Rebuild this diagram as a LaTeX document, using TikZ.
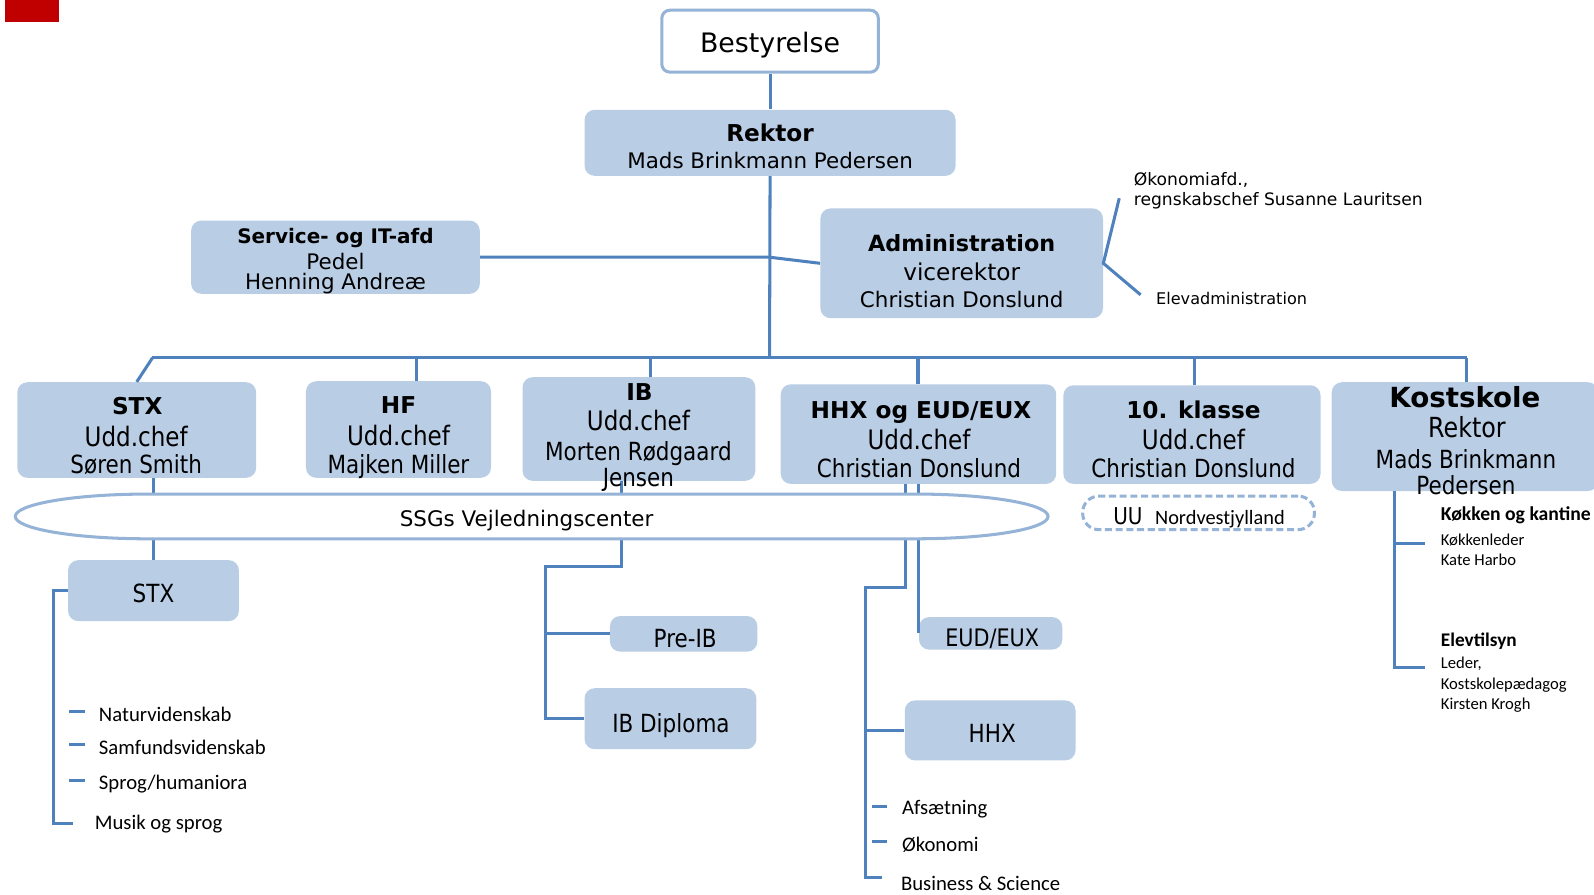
\documentclass[tikz,border=0pt]{standalone}
\usepackage{fontspec}
\setmainfont{DejaVu Sans}
\newfontfamily\condfont{DejaVu Sans}[FakeStretch=0.86]
\newfontfamily\calfont{Carlito}

\definecolor{boxblue}{HTML}{B9CDE5}
\definecolor{lineblue}{HTML}{4F81BD}
\definecolor{rimblue}{HTML}{95B3D7}
\definecolor{ssgred}{HTML}{C00000}

\newcommand\fs[1]{\fontsize{#1}{#1}\selectfont}

\tikzset{
	bx/.style 2 args={fill=boxblue,rounded corners=0.2cm,inner sep=0pt,
		minimum width=#1*0.02cm,minimum height=#2*0.02cm},
	ln/.style={draw=lineblue,line width=1.7pt},
	txt/.style={inner sep=0pt,anchor=mid,yshift=-0.08cm},
	ttl/.style={txt,font=\bfseries\fs{13}},
	chef/.style={txt,font=\condfont\fs{15}},
	who/.style={txt,font=\condfont\fs{14}},
	item/.style={inner sep=0pt,anchor=west,font=\calfont\fs{11.6}},
	note/.style={inner sep=0pt,anchor=west,font=\calfont\fs{9.3}},
}

\begin{document}
\begin{tikzpicture}[x=0.02cm,y=-0.02cm]
\useasboundingbox (0,0) rectangle (1568,880);

\fill[ssgred] (5,0) rectangle (58,22);

% boxes
\node[bx={213}{61},fill=white,draw=rimblue,line width=1.7pt,rounded corners=0.16cm] (best) at (757.5,40.5) {};
\node[bx={365}{65}] (rektor) at (757.5,140.5) {};
\node[bx={284}{72}] (service) at (330,253) {};
\node[bx={278}{108}] (admin) at (946,259) {};

\node[bx={235}{94}] (stx) at (134.5,423) {};
\node[bx={182}{95}] (hf) at (392,422.5) {};
\node[bx={229}{102}] (ib) at (628.5,422) {};
\node[bx={271}{98}] (hhx) at (903.5,427) {};
\node[bx={253}{97}] (tenth) at (1172.5,427.5) {};
\node[bx={262}{107}] (kost) at (1441,429.5) {};

\node[bx={168}{60}] (stxsub) at (151,581) {};
\node[bx={145}{35}] (preib) at (672.5,623.5) {};
\node[bx={169}{60}] (ibdip) at (659.5,707) {};
\node[bx={141}{32}] (eud) at (974.5,623) {};
\node[bx={168}{59}] (hhxsub) at (974,718.5) {};
\node[bx={228}{33},fill=none,draw=rimblue,line width=1.7pt,dash pattern=on 4pt off 2pt,
	rounded corners=0.32cm] (uu) at (1179,504.5) {};

% connectors
\coordinate (busl) at (150,352);
\coordinate (busm) at (757,352);
\coordinate (busr) at (1443,352);
\coordinate (svcj) at (757,253);
\coordinate (okc) at (1101,195);
\coordinate (elc) at (1122,290);

\draw[ln] (best.south) -- (rektor.north);
\draw[ln] (rektor.south) -- (busm);
\draw[ln] (service.east) -- (svcj) -- (admin.west);
\draw[ln] (okc) -- (admin.east) -- (elc);
\draw[ln] (busl) -- (busr);
\draw[ln] (busl) -- (stx.north);
\foreach \n/\x in {hf/410,ib/640,hhx/903,tenth/1175,kost/1443}
	\draw[ln] (\x,352) -- (\x,352 |- \n.north);

\draw[ln] (stxsub.north |- stx.south) -- (stxsub.north);
\coordinate (sl) at (53,810);
\draw[ln] (stxsub.west) -| (sl) -- ++(19,0);

\coordinate (ibj1) at (611,557);
\coordinate (ibj2) at (537,557);
\draw[ln] (ibj1 |- ib.south) -- (ibj1) -- (ibj2) |- (ibdip.west);
\draw[ln] (ibj2 |- preib.west) -- (preib.west);

\coordinate (hhj1) at (891,578);
\coordinate (hhj2) at (851,578);
\coordinate (hhj3) at (851,863);
\draw[ln] (hhj1 |- hhx.south) -- (hhj1) -- (hhj2) -- (hhj3) -- ++(17,0);
\draw[ln] (hhj2 |- hhxsub.west) -- (hhxsub.west);
\draw[ln] (eud.west |- hhx.south) -- (eud.west);

\coordinate (kj1) at (1372,535);
\coordinate (kj2) at (1372,657);
\draw[ln] (kj1 |- kost.south) -- (kj2) -- ++(30,0);
\draw[ln] (kj1) -- ++(30,0);

% vejledningscenter
\filldraw[fill=white,draw=rimblue,line width=1.7pt] (145,486) -- (901,486)
	arc[start angle=90,end angle=-90,x radius=2.6cm,y radius=0.44cm] -- (145,530)
	arc[start angle=270,end angle=90,x radius=2.6cm,y radius=0.44cm] -- cycle;
\node[txt,font=\fs{12}] (ssg) at (518,509) {SSGs Vejledningscenter};

% texts
\node[txt,font=\fs{15}] (best1) at (757.5,43) {Bestyrelse};
\node[ttl] (rektor1) at (757.5,130) {Rektor};
\node[txt,font=\fs{12}] (rektor2) at (757.5,157) {Mads Brinkmann Pedersen};

\node[txt,font=\bfseries\fs{11.2}] (service1) at (330,231) {Service- og IT-afd};
\node[txt,font=\fs{12}] (service2) at (330,256) {Pedel};
\node[txt,font=\fs{12}] (service3) at (330,276) {Henning Andreæ};

\node[txt,font=\bfseries\fs{12.5}] (admin1) at (946,239) {Administration};
\node[txt,font=\fs{13}] (admin2) at (946,267) {vicerektor};
\node[txt,font=\fs{12}] (admin3) at (946,294) {Christian Donslund};

\node[inner sep=0pt,anchor=west,align=left,font=\fontsize{9.6}{11.3}\selectfont] (okon) at (1115,188)
	{Økonomiafd.,\\regnskabschef Susanne Lauritsen};
\node[inner sep=0pt,anchor=west,font=\fs{9}] (elev) at (1137,294) {Elevadministration};

\node[ttl] (stx1) at (135,399) {STX};
\node[chef] (stx2) at (134,430) {Udd.chef};
\node[who] (stx3) at (134,457) {Søren Smith};

\node[ttl] (hf1) at (392,398) {HF};
\node[chef] (hf2) at (392,429) {Udd.chef};
\node[who] (hf3) at (392,457) {Majken Miller};

\node[ttl] (ib1) at (629,385) {IB};
\node[chef] (ib2) at (628,415) {Udd.chef};
\node[who] (ib3) at (628,444) {Morten Rødgaard};
\node[who] (ib4) at (628,470) {Jensen};

\node[ttl] (hhx1) at (906,403) {HHX og EUD/EUX};
\node[chef] (hhx2) at (904,433) {Udd.chef};
\node[who] (hhx3) at (904,461) {Christian Donslund};

\node[ttl] (tenth1) at (1174,403) {10. klasse};
\node[chef] (tenth2) at (1174,433) {Udd.chef};
\node[who] (tenth3) at (1174,461) {Christian Donslund};

\node[txt,font=\bfseries\fs{15.5}] (kost1) at (1441,392) {Kostskole};
\node[txt,font=\condfont\fs{15.5}] (kost2) at (1443,422) {Rektor};
\node[who] (kost3) at (1442,452) {Mads Brinkmann};
\node[who] (kost4) at (1442,478) {Pedersen};

\node[who] (stxsub1) at (151,584) {STX};
\node[who] (preib1) at (674,628) {Pre-IB};
\node[who] (ibdip1) at (660,712) {IB Diploma};
\node[txt,font=\condfont\fs{13.5}] (eud1) at (976,627) {EUD/EUX};
\node[who] (hhxsub1) at (976,722) {HHX};
\node[txt] (uu1) at (1179.5,507)
	{{\condfont\fs{13}UU}\hspace{7pt}{\calfont\fs{11.4}Nordvestjylland}};

% fag
\foreach \y/\t [count=\i] in {700/Naturvidenskab,732/Samfundsvidenskab,768/{Sprog/humaniora}}{
	\draw[ln] (68,\y) -- (84,\y);
	\node[item] (fag\i) at (97,\y+3) {\t};
}
\node[item] (fag4) at (93,811) {Musik og sprog};

\foreach \y/\t [count=\i] in {793/Afsætning,828/Økonomi}{
	\draw[ln] (858,\y) -- (873,\y);
	\node[item] (hfag\i) at (887,\y+3) {\t};
}
\node[item] (hfag3) at (886,869) {Business \& Science};

% kostskole
\node[note,font=\calfont\bfseries\fs{11}] (kk1) at (1417,507) {Køkken og kantine};
\node[note] (kk2) at (1417,531) {Køkkenleder};
\node[note] (kk3) at (1417,551) {Kate Harbo};
\node[note,font=\calfont\bfseries\fs{10.8}] (et1) at (1417,631) {Elevtilsyn};
\node[note] (et2) at (1417,653) {Leder,};
\node[note] (et3) at (1417,674) {Kostskolepædagog};
\node[note] (et4) at (1417,694) {Kirsten Krogh};

\end{tikzpicture}
\end{document}
